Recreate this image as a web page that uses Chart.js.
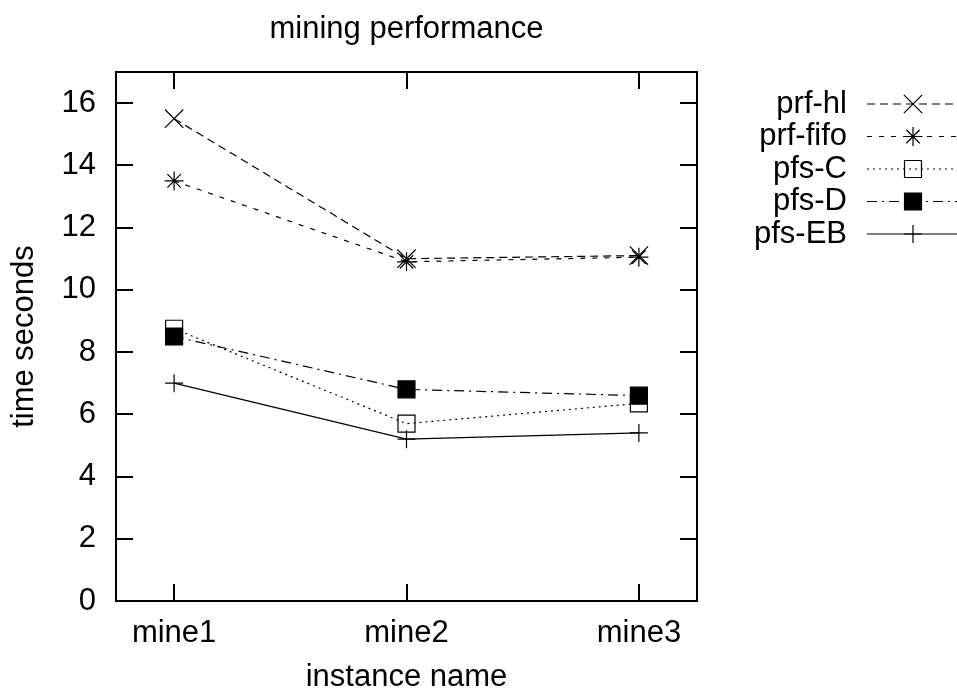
<!DOCTYPE html>
<html>
<head>
<meta charset="utf-8">
<title>mining performance</title>
<script src="https://cdn.jsdelivr.net/npm/chart.js@4/dist/chart.umd.min.js"></script>
<style>
  html, body { margin: 0; padding: 0; background: #fff; }
  #wrap { width: 957px; height: 694px; }
</style>
</head>
<body>
<div id="wrap"><canvas id="c" width="957" height="694"></canvas></div>
<script>
// Instances on the x axis
const categories = ['mine1', 'mine2', 'mine3'];

// Run time in seconds for each solver
const seriesNames = ['prf-hl', 'prf-fifo', 'pfs-C', 'pfs-D', 'pfs-EB'];
const prfHl   = [15.5, 11.0, 11.1];
const prfFifo = [13.5, 10.9, 11.05];
const pfsC    = [8.75, 5.7, 6.35];
const pfsD    = [8.5, 6.8, 6.6];
const pfsEB   = [7.0, 5.2, 5.4];

// Axis ticks
const yTickValues = [0, 2, 4, 6, 8, 10, 12, 14, 16];
const xTickValues = [1, 2, 3];

const chartTitle = 'mining performance';

const FONT = '"Liberation Sans", Arial, Helvetica, sans-serif';
Chart.defaults.font.family = FONT;
Chart.defaults.color = '#000';

const toPoints = vals => vals.map((v, i) => ({ x: i + 1, y: v }));

const styles = [
  { pointStyle: 'crossRot', radius: 13,  dash: [8, 5],        fill: 'rgba(0,0,0,0)' },
  { pointStyle: 'star',     radius: 9.5, dash: [5, 7],        fill: 'rgba(0,0,0,0)' },
  { pointStyle: 'rect',     radius: 12,  dash: [2, 4],        fill: 'rgba(0,0,0,0)' },
  { pointStyle: 'rect',     radius: 12,  dash: [10, 5, 2, 5], fill: '#000' },
  { pointStyle: 'cross',    radius: 9,   dash: [],            fill: 'rgba(0,0,0,0)' }
];
const seriesValues = [prfHl, prfFifo, pfsC, pfsD, pfsEB];

const datasets = seriesNames.map((name, i) => ({
  label: name,
  data: toPoints(seriesValues[i]),
  borderColor: '#000',
  borderWidth: 1.2,
  borderDash: styles[i].dash,
  tension: 0,
  fill: false,
  pointStyle: styles[i].pointStyle,
  pointRadius: styles[i].radius,
  pointHoverRadius: styles[i].radius,
  pointBorderColor: '#000',
  pointBorderWidth: 1.2,
  pointBackgroundColor: styles[i].fill
}));

// Frame around the plot with inward tick marks on all four sides,
// plus the heading centred over the plot
const frameTicks = {
  id: 'frameTicks',
  afterDatasetsDraw(chart) {
    const { ctx, chartArea: a, scales: { x, y } } = chart;
    const len = 17;
    ctx.save();
    ctx.strokeStyle = '#000';
    ctx.lineWidth = 2;
    ctx.setLineDash([]);
    ctx.beginPath();
    yTickValues.forEach(v => {
      const py = Math.round(y.getPixelForValue(v));
      ctx.moveTo(a.left, py); ctx.lineTo(a.left + len, py);
      ctx.moveTo(a.right, py); ctx.lineTo(a.right - len, py);
    });
    xTickValues.forEach(v => {
      const px = Math.round(x.getPixelForValue(v));
      ctx.moveTo(px, a.bottom); ctx.lineTo(px, a.bottom - len);
      ctx.moveTo(px, a.top); ctx.lineTo(px, a.top + len);
    });
    ctx.stroke();
    ctx.strokeRect(a.left, a.top, a.right - a.left, a.bottom - a.top);

    ctx.fillStyle = '#000';
    ctx.font = '31px ' + FONT;
    ctx.textAlign = 'center';
    ctx.textBaseline = 'middle';
    ctx.fillText(chartTitle, (a.left + a.right) / 2, 29);
    ctx.restore();
  }
};

// Key to the right of the plot: name, line sample and marker
const sideKey = {
  id: 'sideKey',
  afterDraw(chart) {
    const { ctx } = chart;
    const textRight = 847, lineL = 867, lineR = 958, markX = 913;
    const top = 104, step = 32.5;
    ctx.save();
    ctx.font = '31px ' + FONT;
    ctx.textAlign = 'right';
    ctx.textBaseline = 'middle';
    chart.data.datasets.forEach((ds, i) => {
      const yy = top + i * step;
      ctx.fillStyle = '#000';
      ctx.fillText(ds.label, textRight, yy);
      ctx.strokeStyle = '#000';
      ctx.lineWidth = ds.borderWidth;
      ctx.setLineDash(ds.borderDash);
      ctx.beginPath();
      ctx.moveTo(lineL, yy); ctx.lineTo(lineR, yy);
      ctx.stroke();
      ctx.setLineDash([]);
      ctx.fillStyle = ds.pointBackgroundColor;
      ctx.lineWidth = ds.pointBorderWidth;
      Chart.helpers.drawPoint(ctx, {
        pointStyle: ds.pointStyle,
        radius: ds.pointRadius,
        rotation: 0,
        borderWidth: ds.pointBorderWidth
      }, markX, yy);
    });
    ctx.restore();
  }
};

new Chart(document.getElementById('c'), {
  type: 'line',
  data: { datasets },
  options: {
    responsive: false,
    animation: false,
    events: [],
    layout: { padding: { left: 0, right: 260, top: 72, bottom: 0 } },
    plugins: {
      legend: { display: false },
      tooltip: { enabled: false },
      title: { display: false }
    },
    scales: {
      x: {
        type: 'linear',
        min: 0.75,
        max: 3.25,
        afterBuildTicks: s => { s.ticks = xTickValues.map(v => ({ value: v })); },
        afterFit: s => { s.height = 93; },
        grid: { display: false, drawTicks: false },
        border: { display: false },
        ticks: {
          padding: 14,
          maxRotation: 0,
          font: { size: 31 },
          color: '#000',
          callback: v => categories[v - 1]
        },
        title: {
          display: true,
          text: 'instance name',
          font: { size: 31, lineHeight: 1.0 },
          color: '#000',
          padding: { top: 0, bottom: 1 }
        }
      },
      y: {
        type: 'linear',
        min: 0,
        max: 17,
        afterBuildTicks: s => { s.ticks = yTickValues.map(v => ({ value: v })); },
        afterFit: s => { s.width = 116; },
        grid: { display: false, drawTicks: false },
        border: { display: false },
        ticks: {
          padding: 20,
          font: { size: 31 },
          color: '#000'
        },
        title: {
          display: true,
          text: 'time seconds',
          font: { size: 31, lineHeight: 1.0 },
          color: '#000',
          padding: { top: 9, bottom: 0 }
        }
      }
    }
  },
  plugins: [frameTicks, sideKey]
});
</script>
</body>
</html>
